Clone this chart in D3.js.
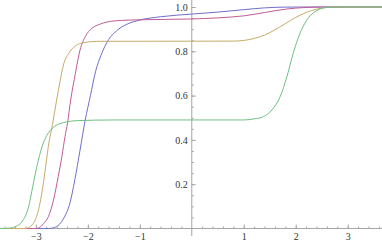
<!DOCTYPE html>
<html>
<head>
<meta charset="utf-8">
<script src="https://cdn.jsdelivr.net/npm/d3@7"></script>
<style>
  html, body { margin: 0; padding: 0; background: #fff; }
  svg { display: block; }
</style>
</head>
<body>
<svg id="chart" width="382" height="241"></svg>
<script>
// sample points, one pair of arrays per curve
const blueX = [-3.69, -2.75, -2.65, -2.55, -2.45, -2.35, -2.25, -2.15, -2.05, -1.95, -1.85, -1.75, -1.6, -1.45, -1.25, -1.0, -0.6, 0, 0.5, 1.0, 1.4, 1.8, 2.2, 3.66];
const blueY = [0, 0, 0.004, 0.018, 0.052, 0.11, 0.22, 0.354, 0.49, 0.6, 0.71, 0.78, 0.853, 0.892, 0.922, 0.941, 0.956, 0.968, 0.977, 0.988, 0.996, 0.9995, 1, 1];

const purpleX = [-3.69, -3.0, -2.9, -2.85, -2.76, -2.66, -2.57, -2.5, -2.44, -2.39, -2.33, -2.24, -2.15, -2.05, -1.92, -1.76, -1.5, -1.2, -0.5, 0, 0.5, 1.0, 1.4, 1.8, 2.2, 2.6, 3.66];
const purpleY = [0, 0, 0.01, 0.023, 0.053, 0.129, 0.234, 0.324, 0.414, 0.477, 0.58, 0.7, 0.806, 0.866, 0.904, 0.923, 0.937, 0.941, 0.944, 0.946, 0.951, 0.96, 0.975, 0.99, 0.998, 1, 1];

const oliveX = [-3.69, -3.2, -3.1, -3.05, -2.95, -2.885, -2.82, -2.76, -2.68, -2.6, -2.53, -2.47, -2.37, -2.24, -2.08, -1.83, 0.8, 1.0, 1.2, 1.4, 1.6, 1.8, 2.0, 2.2, 2.4, 2.6, 2.9, 3.66];
const oliveY = [0, 0, 0.01, 0.023, 0.083, 0.16, 0.264, 0.37, 0.47, 0.58, 0.67, 0.738, 0.79, 0.824, 0.839, 0.845, 0.846, 0.849, 0.858, 0.873, 0.897, 0.925, 0.953, 0.975, 0.99, 0.998, 1, 1];

const greenX = [-3.69, -3.5, -3.4, -3.3, -3.24, -3.14, -3.06, -2.98, -2.88, -2.79, -2.66, -2.47, -2.2, -1.5, 1.0, 1.2, 1.38, 1.54, 1.7, 1.83, 1.95, 2.08, 2.21, 2.37, 2.6, 2.85, 3.66];
const greenY = [0, 0.002, 0.008, 0.022, 0.04, 0.098, 0.19, 0.28, 0.37, 0.42, 0.457, 0.478, 0.487, 0.49, 0.49, 0.495, 0.505, 0.535, 0.595, 0.685, 0.79, 0.88, 0.94, 0.979, 0.998, 1, 1];

const xTicks = [-3, -2, -1, 1, 2, 3];
const yTicks = [0.2, 0.4, 0.6, 0.8, 1.0];

const series = [
  { xs: blueX, ys: blueY, color: '#6f6fcc' },
  { xs: purpleX, ys: purpleY, color: '#c05d95' },
  { xs: oliveX, ys: oliveY, color: '#c6ab6a' },
  { xs: greenX, ys: greenY, color: '#6fc084' }
];

const svg = d3.select('svg#chart');
const width = 382, height = 241;

const x = d3.scaleLinear().domain([-3.69, 3.66]).range([0, width]);
const y = d3.scaleLinear().domain([0, 1]).range([228.5, 7]);

const axisColor = '#a6a6a6';
const labelFont = 'Liberation Serif';

// minor ticks (no labels)
const xMinor = d3.range(-3.6, 3.61, 0.2).filter(v => Math.abs(v) > 1e-6);
const yMinor = d3.range(0.05, 1.001, 0.05);

svg.append('g')
  .attr('transform', `translate(0,${y(0)})`)
  .call(d3.axisBottom(x).tickValues(xMinor).tickSize(-2).tickFormat(''))
  .call(g => g.select('.domain').remove())
  .call(g => g.selectAll('line').attr('stroke', axisColor));

svg.append('g')
  .attr('transform', `translate(${x(0)},0)`)
  .call(d3.axisLeft(y).tickValues(yMinor).tickSize(-2).tickFormat(''))
  .call(g => g.select('.domain').remove())
  .call(g => g.selectAll('line').attr('stroke', axisColor));

// major ticks with labels
const styleLabels = g => g.selectAll('text')
  .style('font-family', labelFont)
  .style('font-size', '10px')
  .style('fill', '#333');

svg.append('g')
  .attr('transform', `translate(0,${y(0)})`)
  .call(d3.axisBottom(x).tickValues(xTicks).tickSize(-4).tickPadding(4).tickFormat(d3.format('d')))
  .call(g => g.select('.domain').remove())
  .call(g => g.selectAll('line').attr('stroke', axisColor))
  .call(styleLabels);

svg.append('g')
  .attr('transform', `translate(${x(0)},0)`)
  .call(d3.axisLeft(y).tickValues(yTicks).tickSize(-4).tickPadding(4).tickFormat(d3.format('.1f')))
  .call(g => g.select('.domain').remove())
  .call(g => g.selectAll('line').attr('stroke', axisColor))
  .call(styleLabels);

// axis lines
svg.append('line')
  .attr('x1', 0).attr('x2', width)
  .attr('y1', y(0)).attr('y2', y(0))
  .attr('stroke', axisColor).attr('stroke-width', 1);
svg.append('line')
  .attr('x1', x(0)).attr('x2', x(0))
  .attr('y1', 0).attr('y2', 236)
  .attr('stroke', axisColor).attr('stroke-width', 1);

// curves
const line = d3.line()
  .x(d => x(d[0]))
  .y(d => y(d[1]))
  .curve(d3.curveMonotoneX);

svg.append('g')
  .selectAll('path')
  .data(series)
  .enter()
  .append('path')
  .attr('fill', 'none')
  .attr('stroke', d => d.color)
  .attr('stroke-width', 1)
  .attr('d', d => line(d.xs.map((v, i) => [v, d.ys[i]])));
</script>
</body>
</html>
